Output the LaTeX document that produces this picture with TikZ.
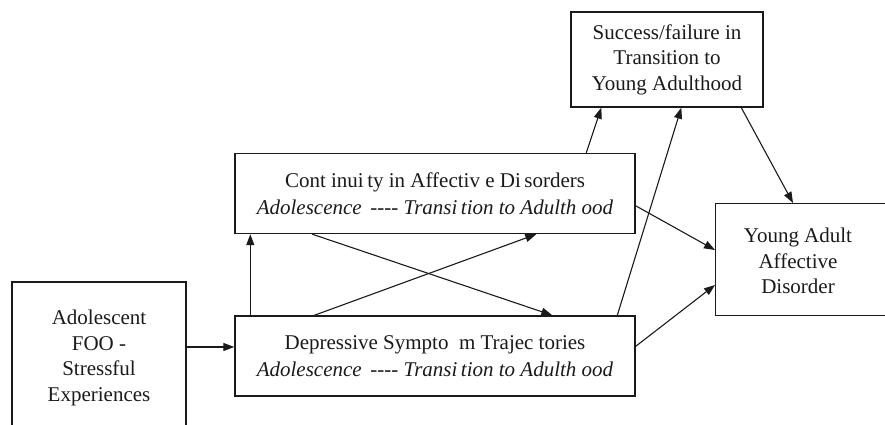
\documentclass[tikz,border=0pt]{standalone}
\usepackage{fontspec}
\setmainfont{Liberation Serif}
\usetikzlibrary{arrows.meta}
\definecolor{ink}{HTML}{1A1A1A}
\begin{document}
\begin{tikzpicture}[x=1pt,y=-1pt,
  box/.style={draw=ink, line width=1.4pt, rectangle, inner sep=0pt, align=center,
    text=ink, font=\fontsize{21}{25.5}\selectfont},
  widebox/.style={box, minimum width=400pt, minimum height=80pt,
    font=\fontsize{21}{27}\selectfont},
  boxtext/.style={inner sep=0pt, align=center, text=ink,
    font=\fontsize{21}{25.5}\selectfont},
  link/.style={draw=ink, line width=1.1pt, -{Triangle[length=11pt,width=8pt]}}
]
\useasboundingbox (0,0) rectangle (885,424);
\clip (0,0) rectangle (885,424);

% boxes
\node[box, minimum width=192pt, minimum height=95pt] (succ) at (667,59.5)
  {Success/failure in\\Transition to\\Young Adulthood};
\node[widebox] (cont) at (435,193.5)
  {Cont inui\,ty in Affectiv e Di\,sorders\\
   \textit{Adolescence\ \,-{}-{}-{}- Transi\,tion to Adulth ood}};
\node[widebox] (dep) at (435,356)
  {Depressive Sympto\ \ m Trajec tories\\
   \textit{Adolescence\ \,-{}-{}-{}- Transi\,tion to Adulth ood}};
\node[box, minimum width=180pt, minimum height=112pt, anchor=north west] (yad) at (715,203) {};
\node[boxtext] (yadtext) at (798,261) {Young Adult\\Affective\\Disorder};
\node[box, minimum width=174pt, minimum height=152pt] (foo) at (99,358)
  {Adolescent\\FOO -\\Stressful\\Experiences};

% connectors
\draw[link] ([yshift=11pt]foo.east) -- ([yshift=9pt]dep.west);
\draw[link] ([xshift=16pt]dep.north west) -- ([xshift=16pt]cont.south west);
\draw[link] ([xshift=78pt]cont.south west) -- ([xshift=318pt]dep.north west);
\draw[link] ([xshift=80pt]dep.north west) -- ([xshift=302pt]cont.south west);
\draw[link] ([xshift=352pt]cont.north west) -- ([xshift=31pt]succ.south west);
\draw[link] ([xshift=383pt]dep.north west) -- ([xshift=111pt]succ.south west);
\draw[link] ([xshift=171pt]succ.south west) -- ([xshift=78pt]yad.north west);
\draw[link] ([yshift=-53pt]cont.north east) -- ([yshift=-47pt]yad.north west);
\draw[link] ([yshift=-31pt]dep.north east) -- ([yshift=-82pt]yad.north west);
\end{tikzpicture}
\end{document}
